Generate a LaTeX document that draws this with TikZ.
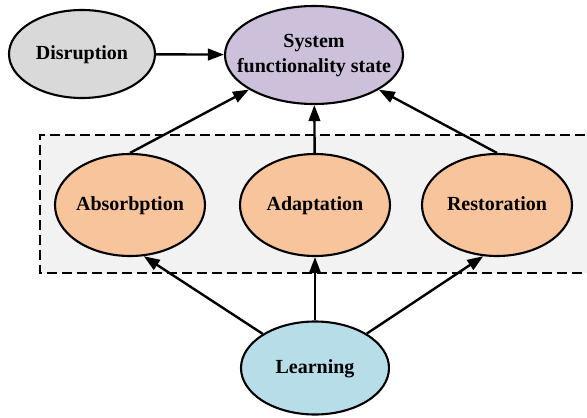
\documentclass[tikz,border=0pt]{standalone}
\usepackage{fontspec}
\setmainfont{Liberation Serif}
\usetikzlibrary{shapes.geometric,arrows.meta}
\definecolor{grayfill}{HTML}{D9D9D9}
\definecolor{lavender}{HTML}{CCC0DA}
\definecolor{peach}{HTML}{F8C49C}
\definecolor{lightblue}{HTML}{B7DDE8}
\definecolor{panel}{HTML}{F2F2F2}
% text whose width does not enlarge the ellipse around it
\newcommand{\ovaltext}[1]{\makebox[0pt]{\begin{tabular}{@{}c@{}}#1\end{tabular}}}
\tikzset{
  oval/.style={ellipse, draw=black, line width=2.1pt, inner sep=0pt,
    font=\fontsize{20}{25}\selectfont\bfseries},
  link/.style={line width=2.4pt, -{Triangle[length=16pt,width=11.5pt]}},
  panelbox/.style={draw=black, fill=panel, line width=1.1pt, dash pattern=on 10pt off 5pt}
}
\begin{document}
\begin{tikzpicture}[x=1pt,y=-1pt]
  \useasboundingbox (0,0) rectangle (587,418);
  \clip (0,0) rectangle (587,418);
  % dashed group of resilience capacities, open to the right
  \path[panelbox, draw=none] (40,135) rectangle (600,273);
  \draw[panelbox, fill=none] (600,135) -- (40,135) -- (40,273) -- (600,273);

  \node[oval, fill=grayfill, minimum width=146pt, minimum height=88pt] (dis) at (82,54) {\ovaltext{Disruption}};
  \node[oval, fill=lavender, minimum width=178pt, minimum height=98pt] (sys) at (314,55) {\ovaltext{System\\functionality state}};
  \node[oval, fill=peach, minimum width=150pt, minimum height=102pt] (abs) at (130,205) {\ovaltext{Absorbption}};
  \node[oval, fill=peach, minimum width=150pt, minimum height=102pt] (ada) at (315,205) {\ovaltext{Adaptation}};
  \node[oval, fill=peach, minimum width=150pt, minimum height=102pt] (res) at (497,205) {\ovaltext{Restoration}};
  \node[oval, fill=lightblue, minimum width=148pt, minimum height=93pt] (learn) at (315,368) {\ovaltext{Learning}};

  \draw[link] (dis) -- (sys);
  \draw[link] (abs.north) -- (sys);
  \draw[link] (ada) -- (sys);
  \draw[link] (res.north) -- (sys);
  \draw[link] (learn) -- (abs.285);
  \draw[link] (learn) -- (ada);
  \draw[link] (learn) -- (res.255);
\end{tikzpicture}
\end{document}
